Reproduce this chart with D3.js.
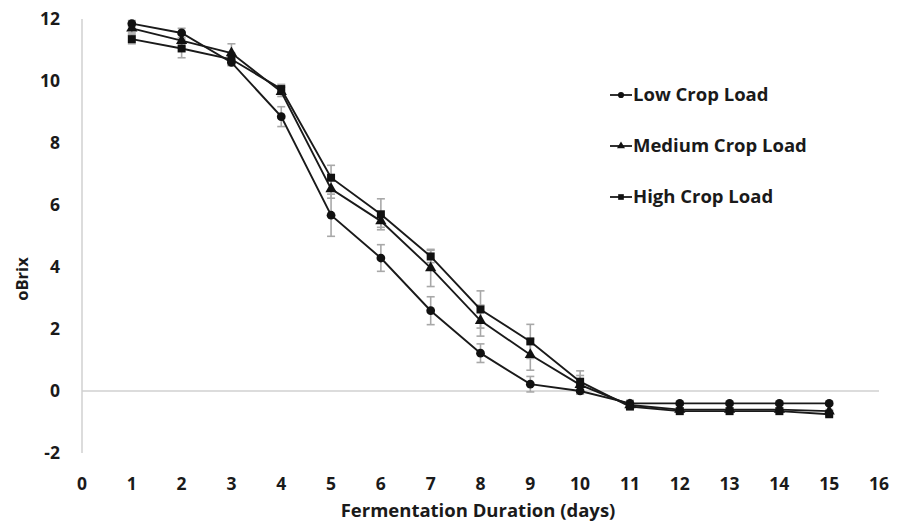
<!DOCTYPE html>
<html><head><meta charset="utf-8">
<script src="https://cdn.jsdelivr.net/npm/d3@7"></script>
<style>body{margin:0;background:#fff}svg{display:block}text{font-family:"Open Sans",sans-serif;font-weight:700;fill:#1a1a1a}</style>
</head><body><svg id="c" width="905" height="525"></svg>
<script>
const days = [1,2,3,4,5,6,7,8,9,10,11,12,13,14,15];
const lowCrop    = [11.85,11.55,10.6,8.85,5.67,4.29,2.59,1.22,0.22,0.0,-0.4,-0.4,-0.4,-0.4,-0.4];
const mediumCrop = [11.7,11.3,10.9,9.65,6.52,5.48,3.97,2.27,1.17,0.2,-0.45,-0.6,-0.6,-0.6,-0.65];
const highCrop   = [11.35,11.05,10.7,9.74,6.88,5.70,4.34,2.63,1.6,0.3,-0.5,-0.65,-0.65,-0.65,-0.75];
const lowErr     = [0.1,0.15,0.1,0.32,0.68,0.43,0.45,0.3,0.25,0.1,0.1,0.05,0.05,0.05,0.05];
const mediumErr  = [0.15,0.2,0.3,0.15,0.3,0.2,0.6,0.5,0.5,0.3,0.1,0.05,0.05,0.05,0.05];
const highErr    = [0.15,0.3,0.2,0.15,0.4,0.5,0.2,0.6,0.55,0.35,0.1,0.05,0.05,0.05,0.05];
const seriesNames = ["Low Crop Load","Medium Crop Load","High Crop Load"];
const xTicks = d3.range(0,17,1);
const yTicks = [-2,0,2,4,6,8,10,12];

const svg = d3.select("#c");
const x = d3.scaleLinear().domain([0,16]).range([82,879]);
const y = d3.scaleLinear().domain([-2,12]).range([453,19]);

// axis lines
svg.append("line").attr("x1",x(0)).attr("x2",x(0)).attr("y1",y(12)).attr("y2",y(-2)).attr("stroke","#d0d0d0").attr("stroke-width",1.5);
svg.append("line").attr("x1",x(0)).attr("x2",x(16)).attr("y1",y(0)).attr("y2",y(0)).attr("stroke","#d0d0d0").attr("stroke-width",1.5);

// tick labels
svg.selectAll("text.yt").data(yTicks).enter().append("text").attr("class","yt")
  .attr("x",60).attr("y",d=>y(d)).attr("dy","0.35em").attr("text-anchor","end").attr("font-size",17.5).text(d=>d);
svg.selectAll("text.xt").data(xTicks).enter().append("text").attr("class","xt")
  .attr("x",d=>x(d)).attr("y",484).attr("dy","0.35em").attr("text-anchor","middle").attr("font-size",17.5).text(d=>d);

svg.append("text").attr("transform","translate(22,279) rotate(-90)").attr("text-anchor","middle").attr("dy","0.35em").attr("font-size",16.5).text("oBrix");
svg.append("text").attr("x",478).attr("y",517).attr("text-anchor","middle").attr("font-size",18.5).text("Fermentation Duration (days)");

const series = [
  {name:seriesNames[0], vals:lowCrop, err:lowErr, sym:d3.symbolCircle, size:60},
  {name:seriesNames[1], vals:mediumCrop, err:mediumErr, sym:d3.symbolTriangle, size:55},
  {name:seriesNames[2], vals:highCrop, err:highErr, sym:d3.symbolSquare, size:64}
];

// error bars
series.forEach(s=>{
  const g = svg.append("g").attr("stroke","#a8a8a8").attr("stroke-width",1.6);
  days.forEach((d,i)=>{
    const lo=y(s.vals[i]-s.err[i]), hi=y(s.vals[i]+s.err[i]), cx=x(d);
    g.append("line").attr("x1",cx).attr("x2",cx).attr("y1",lo).attr("y2",hi);
    g.append("line").attr("x1",cx-4).attr("x2",cx+4).attr("y1",lo).attr("y2",lo);
    g.append("line").attr("x1",cx-4).attr("x2",cx+4).attr("y1",hi).attr("y2",hi);
  });
});

const line = d3.line().x((d,i)=>x(days[i])).y(d=>y(d));
series.forEach(s=>{
  svg.append("path").datum(s.vals).attr("d",line).attr("fill","none").attr("stroke","#1a1a1a").attr("stroke-width",1.9);
  svg.selectAll(null).data(s.vals).enter().append("path")
    .attr("transform",(d,i)=>"translate("+x(days[i])+","+y(d)+")")
    .attr("d",d3.symbol().type(s.sym).size(s.size)).attr("fill","#111");
});

// legend
const lgY=[95,146,197];
series.forEach((s,i)=>{
  const g=svg.append("g").attr("transform","translate(610,"+lgY[i]+")");
  g.append("line").attr("x1",0).attr("x2",22).attr("y1",0).attr("y2",0).attr("stroke","#1a1a1a").attr("stroke-width",1.8);
  g.append("path").attr("transform","translate(11,0)").attr("d",d3.symbol().type(s.sym).size(s.size*0.5)).attr("fill","#111");
  g.append("text").attr("x",23).attr("y",0).attr("dy","0.35em").attr("font-size",18.5).text(s.name);
});
</script></body></html>
